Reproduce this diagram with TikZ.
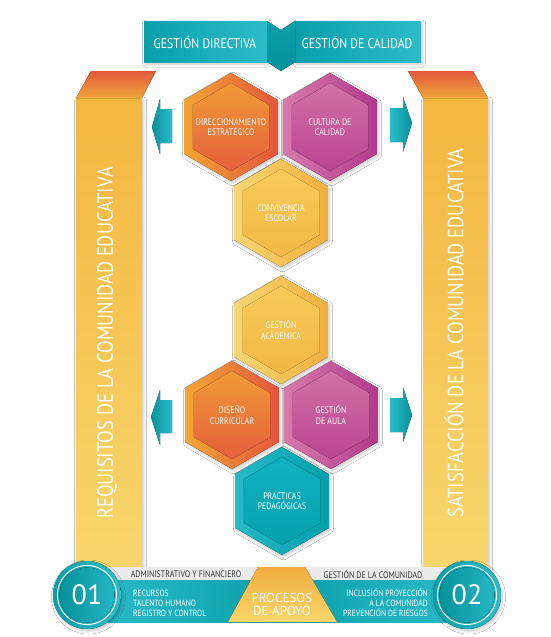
\documentclass[tikz,border=0pt]{standalone}
\usepackage{fontspec}
\setmainfont{PT Sans}
\newfontfamily\condf[FakeStretch=0.84]{PT Sans}
\usetikzlibrary{shadows.blur}
\definecolor{tealA}{HTML}{0A9FAB}
\definecolor{tealB}{HTML}{2CBCCA}
\definecolor{tealD}{HTML}{05929C}
\definecolor{barT}{HTML}{F4B63F}
\definecolor{barB}{HTML}{F8D66C}
\definecolor{capT}{HTML}{E2573B}
\definecolor{capB}{HTML}{F1A63A}
\definecolor{orL}{HTML}{F3A635}
\definecolor{orR}{HTML}{E4553A}
\definecolor{orIT}{HTML}{F09A36}
\definecolor{orIB}{HTML}{E55E3B}
\definecolor{pkL}{HTML}{D97AAC}
\definecolor{pkR}{HTML}{B2388B}
\definecolor{pkIT}{HTML}{D271A7}
\definecolor{pkIB}{HTML}{BA448F}
\definecolor{yeL}{HTML}{F8D772}
\definecolor{yeR}{HTML}{F0AF3D}
\definecolor{yeIT}{HTML}{F7CB58}
\definecolor{yeIB}{HTML}{F3B744}
\definecolor{tqL}{HTML}{28B9C8}
\definecolor{tqR}{HTML}{009FAB}
\definecolor{tqIT}{HTML}{12B1C0}
\definecolor{tqIB}{HTML}{05A1AD}
\definecolor{greyS}{HTML}{EBEBEB}
\definecolor{darkT}{HTML}{333333}
\definecolor{procT}{HTML}{F2AE3E}
\definecolor{procB}{HTML}{F8D66B}
\tikzset{
  softshadow/.style={blur shadow={shadow xshift=1.5pt,shadow yshift=-2pt,shadow blur radius=3pt,shadow opacity=22}},
  hextext/.style={align=center,text=white,inner sep=0pt,font=\condf\fontsize{9.4}{10.5}\selectfont},
  bannertext/.style={text=white,inner sep=0pt,font=\condf\fontsize{14}{16}\selectfont},
  vtext/.style={text=white,inner sep=0pt,rotate=90,font=\condf\fontsize{22}{24}\selectfont},
  greytext/.style={text=darkT,inner sep=0pt,font=\condf\fontsize{9.4}{10}\selectfont},
  smalltext/.style={text=white,inner sep=0pt,font=\condf\fontsize{9}{10}\selectfont},
  proctext/.style={text=white,inner sep=0pt,align=center,font=\fontsize{13}{13}\selectfont},
  numtext/.style={text=white,inner sep=0pt,font=\fontsize{28}{30}\selectfont},
}
\newcommand\hexcell[8]{%
  \fill[left color=#4,right color=#5,softshadow] (#2,#3) +(30:54) -- +(90:54) -- +(150:54) -- +(210:54) -- +(270:54) -- +(330:54) -- cycle;
  \fill[top color=#6,bottom color=#7] (#2,#3) +(30:44) -- +(90:44) -- +(150:44) -- +(210:44) -- +(270:44) -- +(330:44) -- cycle;
  \node[hextext] (#1) at (#2,#3) {#8};}
\begin{document}
\begin{tikzpicture}[x=1pt,y=-1pt]
\useasboundingbox[fill=white] (0,0) rectangle (551,637);
% side bars
\fill[top color=barT,bottom color=barB,softshadow] (76,98) rectangle (142,567);
\fill[top color=capT,bottom color=capB] (91,71) -- (156,71) -- (142,98) -- (76,98) -- cycle;
\fill[top color=barT,bottom color=barB,softshadow] (423,98) rectangle (488,567);
\fill[top color=capT,bottom color=capB] (408,71) -- (473,71) -- (488,98) -- (423,98) -- cycle;
\node[vtext] (req) at (107,343) {REQUISITOS DE LA COMUNIDAD EDUCATIVA};
\node[vtext] (sat) at (454,333) {SATISFACCIÓN DE LA COMUNIDAD EDUCATIVA};
% arrows
\fill[left color=tealD,right color=tealB] (172,109) -- (160,109) -- (160,99) -- (152,127) -- (160,154) -- (160,143) -- (172,143) -- cycle;
\fill[left color=tealB,right color=tealD] (390,108) -- (403,108) -- (403,97) -- (412,123) -- (403,152) -- (403,142) -- (390,142) -- cycle;
\fill[left color=tealD,right color=tealB] (172,400) -- (160,400) -- (160,390) -- (151,417) -- (160,445) -- (160,433) -- (172,433) -- cycle;
\fill[left color=tealB,right color=tealD] (390,398) -- (403,398) -- (403,387) -- (412,415) -- (403,442) -- (403,432) -- (390,432) -- cycle;
% banner
\fill[left color=tealA,right color=tealB,softshadow] (144,21) rectangle (267,62);
\fill[left color=tealA,right color=tealB,softshadow] (295,21) rectangle (421,62);
\fill[top color=tealA,bottom color=tealD] (267,21) -- (281,30) -- (295,21) -- (295,62) -- (281,71) -- (267,62) -- cycle;
\node[bannertext] (gd) at (205,42) {GESTIÓN DIRECTIVA};
\node[bannertext] (gc) at (357,42) {GESTIÓN DE CALIDAD};
% hexagons
\hexcell{dir}{231}{127}{orL}{orR}{orIT}{orIB}{DIRECCIONAMIENTO\\ESTRATÉGICO}
\hexcell{cul}{330}{127}{pkL}{pkR}{pkIT}{pkIB}{CULTURA DE\\CALIDAD}
\hexcell{con}{281}{213}{yeL}{yeR}{yeIT}{yeIB}{CONVIVENCIA\\ESCOLAR}
\hexcell{aca}{281}{330}{yeL}{yeR}{yeIT}{yeIB}{GESTIÓN\\ACÁDEMICA}
\hexcell{dis}{232}{415}{orL}{orR}{orIT}{orIB}{DISEÑO\\CURRICULAR}
\hexcell{aul}{331}{415}{pkL}{pkR}{pkIT}{pkIB}{GESTIÓN\\DE AULA}
\hexcell{pra}{282}{501}{tqL}{tqR}{tqIT}{tqIB}{PRACTICAS\\PEDAGÓGICAS}
% bottom band
\fill[greyS,softshadow] (87,567) rectangle (467,580);
\fill[left color=tealB,right color=tealA] (87,580) rectangle (282,622);
\fill[left color=tealA,right color=tealB] (282,580) rectangle (467,622);
\fill[top color=procT,bottom color=procB] (258,567) -- (305,567) -- (337,622) -- (228,622) -- cycle;
\node[greytext] (adm) at (186,574) {ADMINISTRATIVO Y FINANCIERO};
\node[greytext] (gcom) at (373,574) {GESTIÓN DE LA COMUNIDAD};
\node[smalltext,anchor=west] (rec) at (133,593) {RECURSOS};
\node[smalltext,anchor=west] (tal) at (133,603) {TALENTO HUMANO};
\node[smalltext,anchor=west] (reg) at (133,613) {REGISTRO Y CONTROL};
\node[smalltext,anchor=east] (inc) at (428,593) {INCLUSIÓN PROYECCIÓN};
\node[smalltext,anchor=east] (alc) at (428,603) {A LA COMUNIDAD};
\node[smalltext,anchor=east] (pre) at (428,613) {PREVENCIÓN DE RIESGOS};
\node[proctext] (proc) at (282,604) {PROCESOS\\DE APOYO};
% circles
\fill[left color=tealA,right color=tealB,softshadow] (87,595) circle (34);
\draw[white,line width=1pt] (87,595) circle (29.5);
\fill[left color=tealD,right color=tealB!80!tealA] (87,595) circle (27.5);
\node[numtext] (n1) at (87,595) {01};
\fill[left color=tealA,right color=tealB,softshadow] (467,595) circle (34);
\draw[white,line width=1pt] (467,595) circle (29.5);
\fill[left color=tealD,right color=tealB!80!tealA] (467,595) circle (27.5);
\node[numtext] (n2) at (467,595) {02};
\end{tikzpicture}
\end{document}
